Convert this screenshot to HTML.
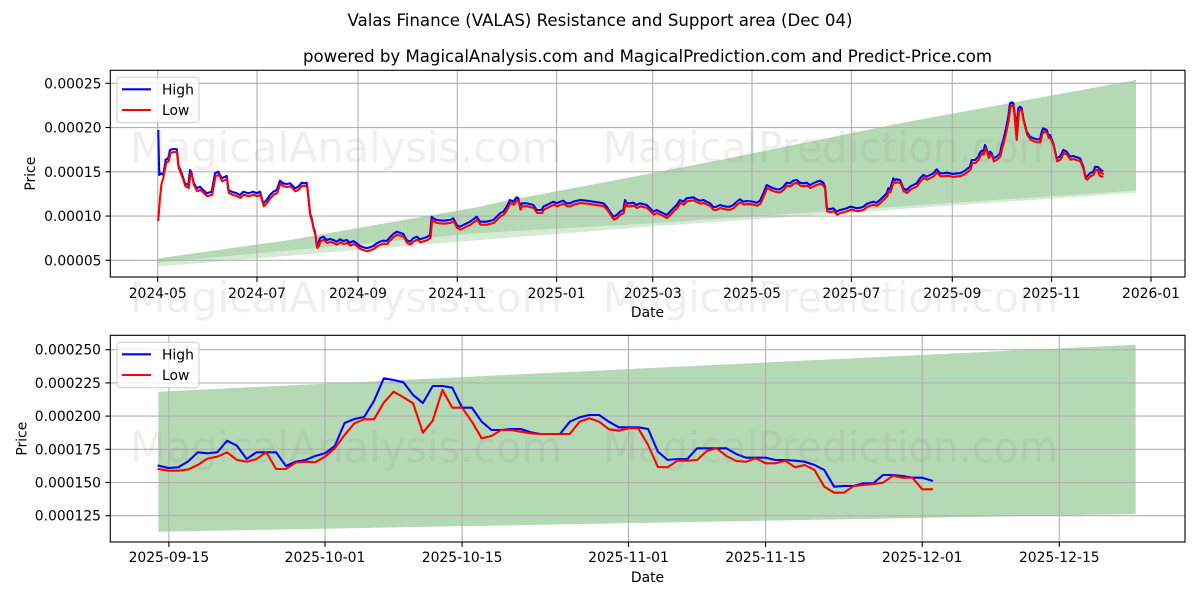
<!DOCTYPE html>
<html><head><meta charset="utf-8"><style>
html,body{margin:0;padding:0;background:#fff;}
svg{display:block;font-family:"DejaVu Sans","Liberation Sans",sans-serif;}
</style></head><body>
<svg width="1200" height="600" viewBox="0 0 1200 600" xmlns="http://www.w3.org/2000/svg">
<rect width="1200" height="600" fill="#fff"/>
<defs>
<path id="topc" fill="none" d="M165.7,160 L168.3,158 L170,150 L173.3,149 L176.7,149 L178.3,165 L181.7,173.3 L185,183.3 L188.3,185 L190,170 L191.7,173.3 L193.3,181.7 L196.7,188.3 L200,186.7 L203.3,190 L206.7,193.3 L211.7,191.7 L215,173.3 L218.3,171.7 L221.7,178.3 L225,176.7 L226.7,176 L228.3,190 L231.7,191.7 L236.7,193.3 L240,195 L243.3,191.7 L248.3,193.3 L253.3,191.7 L256.7,193.3 L260,191.7 L263.3,203.3 L266.7,200 L270,195 L273.3,191.7 L276.7,190 L280,180.7 L283.3,183.3 L286.7,184 L290,183.3 L295,188.3 L298.3,186.7 L301.7,182.7 L305,183.3 L306.7,182.7 L308.3,196.7 L310,213.3 L311.7,218.3 L313.3,226.7 L315,231.7 L316.7,245 L318.3,243.3 L320,238.3 L323.3,236.7 L326.7,240 L330,239 L333.3,240 L336.7,241.7 L340,239.3 L343.3,241 L346.7,240 L350,242.7 L353.3,241 L356.7,243.3 L360,246 L363.3,247.3 L366.7,248.3 L370,247.3 L373.3,246 L376.7,243.3 L380,241.7 L383.3,240.7 L386.7,241 L390,237.3 L393.3,234 L396.7,231.7 L400,232.7 L403.3,234 L406.7,240 L410,241.7 L413.3,238.3 L416.7,236.7 L420,239.3 L423.3,238.3 L426.7,237.3 L430,235 L431.7,216.7 L433.3,218.3 L436.7,220 L443.3,220.7 L450,220 L453.3,218.3 L456.7,225 L460,226.7 L463.3,225 L466.7,223.3 L470,221.7 L473.3,219.3 L476.7,216.7 L480,221.7 L486.7,221.7 L493.3,220 L496.7,216.7 L500,213.3 L503.3,211.7 L506.7,206.7 L510,200 L513.3,201.7 L516.7,197.3 L518.3,198.3 L520,206.7 L521.7,203.3 L526.7,203.3 L533.3,205 L536.7,210 L541.7,210 L543.3,206.7 L550,203.3 L553.3,201.7 L556.7,203.3 L560,201.7 L563.3,200.7 L566.7,203.3 L570,203.3 L573.3,201.7 L580,200 L586.7,200.7 L593.3,201.7 L600,202.7 L603.3,203.3 L606.7,206.7 L610,211.7 L613.3,216.7 L616.7,215 L620,211.7 L623.3,210 L625,200 L626.7,203.3 L630,203.3 L633.3,202.7 L636.7,205 L640,203.3 L646.7,205 L650,208.3 L653.3,211.7 L656.7,210 L660,211.7 L663.3,213.3 L666.7,215 L670,211.7 L673.3,208.3 L676.7,205 L680,200 L683.3,201.7 L686.7,198.3 L693.3,197.3 L696.7,199.3 L700,200.7 L703.3,200 L706.7,201.7 L710,203.3 L713.3,207 L716.7,206.7 L720,205 L723.3,206 L726.7,206.7 L730,206.7 L733.3,205 L736.7,201.7 L740,199.3 L743.3,201.7 L746.7,201 L753.3,201.7 L756.7,202.7 L760,200.7 L763.3,193.3 L766.7,185 L770,186.7 L773.3,188.3 L776.7,189.3 L780,189.3 L783.3,186.7 L786.7,182.7 L790,183.3 L793.3,180.7 L796.7,180 L800,182.7 L803.3,183.3 L806.7,182.7 L810,185 L813.3,183.3 L816.7,181.7 L820,180.7 L823.3,182.7 L825,186.7 L826.7,208.3 L830,209.3 L833.3,208.3 L836.7,211.7 L840,210 L843.3,209.3 L846.7,208.3 L850,206.7 L853.3,207.3 L856.7,208.3 L860,207.7 L863.3,206.7 L866.7,204 L870,202.7 L873.3,201.7 L876.7,202.7 L880,200 L883.3,196.7 L886.7,193.3 L888.3,188.3 L890,189.3 L893.3,178.3 L895,180 L896.7,179.3 L900,180 L903.3,188.3 L906.7,190 L910,186.7 L913.3,185 L916.7,183.3 L920,178.3 L923.3,175 L926.7,176.7 L930,175 L933.3,173.3 L936.7,169.3 L940,173.3 L943.3,173.3 L946.7,172.7 L950,173.3 L953.3,174 L956.7,173.3 L960,173.3 L963.3,171.7 L966.7,169.3 L970,166.7 L971.7,160 L975,160 L978.3,156.7 L980,152.7 L981.7,150.7 L983.3,151.7 L985,145 L986.7,149.3 L988.3,155 L990,151.7 L991.7,153.3 L993.3,158.3 L996.7,156.7 L1000,153.3 L1001.7,145 L1003.3,140 L1006,128.3 L1008.3,116.7 L1010,103.3 L1011.7,102.3 L1013.3,103.3 L1015,116.7 L1016.7,128.3 L1018.3,108.3 L1020,106.7 L1021.7,108.3 L1023.3,118.3 L1026.7,131.7 L1030,136.7 L1033.3,138.3 L1036.7,139.3 L1040,139.3 L1041.7,131.7 L1043.3,128.3 L1046.7,130 L1048.3,135 L1050,135 L1053.3,143.3 L1056.7,158.3 L1060,156.7 L1063.3,150 L1066.7,151.7 L1070,156.7 L1073.3,156 L1076.7,157.3 L1080,158.3 L1083.3,166.7 L1085,175 L1086.7,176.7 L1090,173.3 L1093.3,171.7 L1095,166.7 L1098.3,167.3 L1100,169.3 L1102.3,170.7"/>
</defs>

<!-- Titles -->
<text x="600" y="26" font-size="16.67" text-anchor="middle" textLength="505" lengthAdjust="spacingAndGlyphs">Valas Finance (VALAS) Resistance and Support area (Dec 04)</text>
<text x="647.5" y="62" font-size="16.67" text-anchor="middle" textLength="689" lengthAdjust="spacingAndGlyphs">powered by MagicalAnalysis.com and MagicalPrediction.com and Predict-Price.com</text>

<!-- ===== TOP CHART ===== -->
<!-- band -->
<polygon points="157.7,258.5 290,240 480,206.7 500,202 640,175.5 720,160 900,123.3 1136,80 1136,192.7 640,227.3 480,240 157.7,266.5" fill="#d6ebd6"/>
<polygon points="157.7,258.5 290,240 480,206.7 500,202 640,175.5 720,160 900,123.3 1136,80 1136,190.5 640,224 480,233 157.7,262.5" fill="#b5d9b5"/>
<!-- grid -->
<g stroke="#b0b0b0" stroke-width="1.1">
<line x1="110.3" x2="1185" y1="83.3" y2="83.3"/>
<line x1="110.3" x2="1185" y1="127.55" y2="127.55"/>
<line x1="110.3" x2="1185" y1="171.8" y2="171.8"/>
<line x1="110.3" x2="1185" y1="216.05" y2="216.05"/>
<line x1="110.3" x2="1185" y1="260.3" y2="260.3"/>
<line x1="157.7" x2="157.7" y1="70.3" y2="277"/>
<line x1="257" x2="257" y1="70.3" y2="277"/>
<line x1="358" x2="358" y1="70.3" y2="277"/>
<line x1="457.3" x2="457.3" y1="70.3" y2="277"/>
<line x1="556.6" x2="556.6" y1="70.3" y2="277"/>
<line x1="652.7" x2="652.7" y1="70.3" y2="277"/>
<line x1="752" x2="752" y1="70.3" y2="277"/>
<line x1="851.4" x2="851.4" y1="70.3" y2="277"/>
<line x1="952.3" x2="952.3" y1="70.3" y2="277"/>
<line x1="1051.6" x2="1051.6" y1="70.3" y2="277"/>
<line x1="1151" x2="1151" y1="70.3" y2="277"/>
</g>
<!-- series -->
<g fill="none" stroke-width="2.1" stroke-linejoin="round" stroke-linecap="square">
<path d="M158.3,131 L159.3,175 L161.3,173.3 L163.3,175 L165.7,160" stroke="#0000ff"/>
<use href="#topc" stroke="#0000ff"/>
<path d="M158.3,220 L160,198 L161.5,184 L163.3,178 L166.2,163" stroke="#ff0000"/>
<use href="#topc" stroke="#ff0000" transform="translate(0.5,3)"/>
<path d="M1013.8,108 L1016.7,140 L1018.8,113" stroke="#ff0000"/>
<path d="M1098.3,172 L1100,176 L1102.3,176.7" stroke="#ff0000"/>
</g>
<!-- axes frame -->
<rect x="110.3" y="70.3" width="1074.7" height="206.7" fill="none" stroke="#000" stroke-width="1.1"/>
<!-- ticks -->
<g stroke="#000" stroke-width="1.1">
<line x1="105.4" x2="110.3" y1="83.3" y2="83.3"/>
<line x1="105.4" x2="110.3" y1="127.55" y2="127.55"/>
<line x1="105.4" x2="110.3" y1="171.8" y2="171.8"/>
<line x1="105.4" x2="110.3" y1="216.05" y2="216.05"/>
<line x1="105.4" x2="110.3" y1="260.3" y2="260.3"/>
<line x1="157.7" x2="157.7" y1="277" y2="281.9"/>
<line x1="257" x2="257" y1="277" y2="281.9"/>
<line x1="358" x2="358" y1="277" y2="281.9"/>
<line x1="457.3" x2="457.3" y1="277" y2="281.9"/>
<line x1="556.6" x2="556.6" y1="277" y2="281.9"/>
<line x1="652.7" x2="652.7" y1="277" y2="281.9"/>
<line x1="752" x2="752" y1="277" y2="281.9"/>
<line x1="851.4" x2="851.4" y1="277" y2="281.9"/>
<line x1="952.3" x2="952.3" y1="277" y2="281.9"/>
<line x1="1051.6" x2="1051.6" y1="277" y2="281.9"/>
<line x1="1151" x2="1151" y1="277" y2="281.9"/>
</g>
<g font-size="13.89" text-anchor="end">
<text x="101.5" y="88.3">0.00025</text>
<text x="101.5" y="132.6">0.00020</text>
<text x="101.5" y="176.8">0.00015</text>
<text x="101.5" y="221.1">0.00010</text>
<text x="101.5" y="265.3">0.00005</text>
</g>
<g font-size="13.89" text-anchor="middle">
<text x="157.7" y="298">2024-05</text>
<text x="257" y="298">2024-07</text>
<text x="358" y="298">2024-09</text>
<text x="457.3" y="298">2024-11</text>
<text x="556.6" y="298">2025-01</text>
<text x="652.7" y="298">2025-03</text>
<text x="752" y="298">2025-05</text>
<text x="851.4" y="298">2025-07</text>
<text x="952.3" y="298">2025-09</text>
<text x="1051.6" y="298">2025-11</text>
<text x="1151" y="298">2026-01</text>
<text x="647.5" y="317">Date</text>
<text transform="translate(35,173.7) rotate(-90)">Price</text>
</g>
<!-- legend top -->
<rect x="117" y="77.3" width="82" height="45.4" rx="3" fill="#fff" fill-opacity="0.8" stroke="#cccccc" stroke-width="1"/>
<line x1="122" x2="151" y1="89.3" y2="89.3" stroke="#0000ff" stroke-width="2.1"/>
<line x1="122" x2="151" y1="110" y2="110" stroke="#ff0000" stroke-width="2.1"/>
<text x="162" y="94.3" font-size="13.89">High</text>
<text x="162" y="115" font-size="13.89">Low</text>

<!-- ===== BOTTOM CHART ===== -->
<polygon points="158.3,391.7 1135.7,344.7 1135.7,514 158.3,531.7" fill="#b5d9b5"/>
<g stroke="#b0b0b0" stroke-width="1.1">
<line x1="110.3" x2="1185" y1="349.7" y2="349.7"/>
<line x1="110.3" x2="1185" y1="382.9" y2="382.9"/>
<line x1="110.3" x2="1185" y1="416.1" y2="416.1"/>
<line x1="110.3" x2="1185" y1="449.3" y2="449.3"/>
<line x1="110.3" x2="1185" y1="482.5" y2="482.5"/>
<line x1="110.3" x2="1185" y1="515.7" y2="515.7"/>
<line x1="168.9" x2="168.9" y1="335.3" y2="542"/>
<line x1="325" x2="325" y1="335.3" y2="542"/>
<line x1="462.1" x2="462.1" y1="335.3" y2="542"/>
<line x1="628.5" x2="628.5" y1="335.3" y2="542"/>
<line x1="765.6" x2="765.6" y1="335.3" y2="542"/>
<line x1="922.2" x2="922.2" y1="335.3" y2="542"/>
<line x1="1059.3" x2="1059.3" y1="335.3" y2="542"/>
</g>
<g fill="none" stroke-width="2.1" stroke-linejoin="round" stroke-linecap="square">
<polyline stroke="#0000ff" points="158.6,465.7 168.4,468 178.2,467.3 188,461.5 197.8,452.3 207.6,453.3 217.3,452.3 227.1,440.7 236.9,445.7 246.7,459 256.5,452.3 266.3,452.3 276.1,452.3 285.9,466 295.7,461.7 305.5,460 315.2,456 325,453.3 334.8,446 344.6,423 354.4,419 364.2,417 374,401 383.8,378.3 393.6,380 403.4,382.3 413.1,395 422.9,403 432.7,386 442.5,386 452.3,387.7 462.1,407.7 471.9,407.7 481.7,421.7 491.5,430 501.3,430 511,429 520.8,429 530.6,432.3 540.4,434 550.2,434 560,434 569.8,421.7 579.6,417.3 589.4,415 599.2,415 608.9,421.7 618.7,427.3 628.5,427.3 638.3,427.3 648.1,429 657.9,451.7 667.7,460 677.5,459 687.3,459 697.1,448.3 706.8,448.3 716.6,448.3 726.4,448.3 736.2,454 746,457.7 755.8,457.7 765.6,457.7 775.4,460 785.2,460 795,460.7 804.7,461.7 814.5,465 824.3,470 834.1,486.7 843.9,486 853.7,486 863.5,483.3 873.3,483.3 883.1,475 892.9,475 902.6,476 912.4,477.7 922.2,477.7 932,480.7"/>
<polyline stroke="#ff0000" points="158.6,469 168.4,470.7 178.2,470.7 188,469.5 197.8,465 207.6,458.5 217.3,456.7 227.1,452.3 236.9,460 246.7,461.7 256.5,459 266.3,452.3 276.1,469 285.9,469 295.7,462.5 305.5,461.7 315.2,462.3 325,456.7 334.8,448.3 344.6,435 354.4,423.3 364.2,419.3 374,419.3 383.8,402.7 393.6,391.7 403.4,397.3 413.1,403.3 422.9,432.7 432.7,420.7 442.5,390 452.3,407.7 462.1,407.7 471.9,421.7 481.7,438.3 491.5,436 501.3,430 511,430 520.8,431.7 530.6,433.3 540.4,434 550.2,434 560,434 569.8,434 579.6,421.7 589.4,418.3 599.2,421.7 608.9,429.3 618.7,430.7 628.5,428.3 638.3,428.3 648.1,445 657.9,467 667.7,467.3 677.5,460.7 687.3,460.7 697.1,460 706.8,451 716.6,448.3 726.4,456 736.2,461 746,461.7 755.8,458.3 765.6,463.3 775.4,463.3 785.2,460.7 795,467.3 804.7,465 814.5,470 824.3,486.7 834.1,492.7 843.9,492.7 853.7,486 863.5,485 873.3,484 883.1,482.7 892.9,475.7 902.6,477.7 912.4,477.7 922.2,489.3 932,489.3"/>
</g>
<rect x="110.3" y="335.3" width="1074.7" height="206.7" fill="none" stroke="#000" stroke-width="1.1"/>
<g stroke="#000" stroke-width="1.1">
<line x1="105.4" x2="110.3" y1="349.7" y2="349.7"/>
<line x1="105.4" x2="110.3" y1="382.9" y2="382.9"/>
<line x1="105.4" x2="110.3" y1="416.1" y2="416.1"/>
<line x1="105.4" x2="110.3" y1="449.3" y2="449.3"/>
<line x1="105.4" x2="110.3" y1="482.5" y2="482.5"/>
<line x1="105.4" x2="110.3" y1="515.7" y2="515.7"/>
<line x1="168.9" x2="168.9" y1="542" y2="546.9"/>
<line x1="325" x2="325" y1="542" y2="546.9"/>
<line x1="462.1" x2="462.1" y1="542" y2="546.9"/>
<line x1="628.5" x2="628.5" y1="542" y2="546.9"/>
<line x1="765.6" x2="765.6" y1="542" y2="546.9"/>
<line x1="922.2" x2="922.2" y1="542" y2="546.9"/>
<line x1="1059.3" x2="1059.3" y1="542" y2="546.9"/>
</g>
<g font-size="13.89" text-anchor="end">
<text x="101" y="354.7">0.000250</text>
<text x="101" y="387.9">0.000225</text>
<text x="101" y="421.1">0.000200</text>
<text x="101" y="454.3">0.000175</text>
<text x="101" y="487.5">0.000150</text>
<text x="101" y="520.7">0.000125</text>
</g>
<g font-size="13.89" text-anchor="middle">
<text x="168.9" y="562">2025-09-15</text>
<text x="325" y="562">2025-10-01</text>
<text x="462.1" y="562">2025-10-15</text>
<text x="628.5" y="562">2025-11-01</text>
<text x="765.6" y="562">2025-11-15</text>
<text x="922.2" y="562">2025-12-01</text>
<text x="1059.3" y="562">2025-12-15</text>
<text x="647.5" y="582">Date</text>
<text transform="translate(26.5,438.7) rotate(-90)">Price</text>
</g>
<rect x="117" y="342.3" width="82" height="45.4" rx="3" fill="#fff" fill-opacity="0.8" stroke="#cccccc" stroke-width="1"/>
<line x1="122" x2="151" y1="354.3" y2="354.3" stroke="#0000ff" stroke-width="2.1"/>
<line x1="122" x2="151" y1="375" y2="375" stroke="#ff0000" stroke-width="2.1"/>
<text x="162" y="359.3" font-size="13.89">High</text>
<text x="162" y="380" font-size="13.89">Low</text>

<!-- watermarks -->
<g font-size="41.67" fill="#808080" fill-opacity="0.13">
<text x="130" y="162" textLength="432" lengthAdjust="spacingAndGlyphs">MagicalAnalysis.com</text>
<text x="603" y="162" textLength="455" lengthAdjust="spacingAndGlyphs">MagicalPrediction.com</text>
<text x="130" y="312" textLength="432" lengthAdjust="spacingAndGlyphs">MagicalAnalysis.com</text>
<text x="603" y="312" textLength="455" lengthAdjust="spacingAndGlyphs">MagicalPrediction.com</text>
<text x="130" y="462" textLength="432" lengthAdjust="spacingAndGlyphs">MagicalAnalysis.com</text>
<text x="603" y="462" textLength="455" lengthAdjust="spacingAndGlyphs">MagicalPrediction.com</text>
</g>
</svg>
</body></html>
